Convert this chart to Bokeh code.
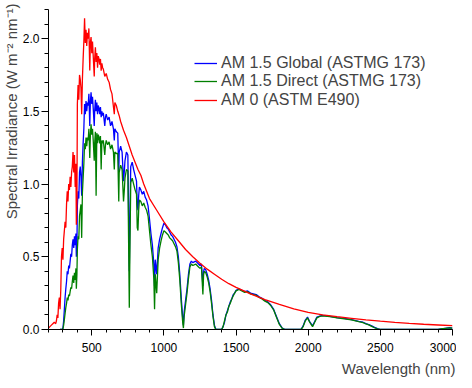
from bokeh.plotting import figure
from bokeh.models import (Range1d, FixedTicker, PrintfTickFormatter, Legend, LegendItem, Title, ColumnDataSource)
from bokeh.embed import file_html
from bokeh.resources import INLINE

# ---------------- data ----------------
am0_wl = [200, 210, 220, 230, 240, 250, 255, 260, 265, 270, 275, 280, 285, 290, 295, 300, 305, 310, 315, 320,
          325, 330, 335, 340, 345, 350, 355, 360, 365, 370, 375, 380, 385, 390, 393, 397, 400, 405, 410, 415,
          420, 425, 430, 435, 440, 445, 450, 455, 460, 465, 470, 475, 480, 486, 490, 495, 500, 505, 510, 517,
          520, 525, 530, 535, 540, 545, 550, 555, 560, 565, 570, 575, 580, 590, 600, 610, 620, 630, 640, 656,
          660, 670, 680, 690, 700, 720, 740, 760, 780, 800, 820, 840, 860, 880, 900, 950, 1000, 1050, 1100, 1150,
          1200, 1250, 1300, 1350, 1400, 1450, 1500, 1600, 1700, 1800, 1900, 2000, 2100, 2200, 2300, 2400, 2500,
          2600, 2700, 2800, 2900, 3000]
am0_val = [0.01, 0.02, 0.03, 0.04, 0.05, 0.04, 0.06, 0.10, 0.08, 0.18, 0.22, 0.14, 0.27, 0.50, 0.56, 0.48, 0.62, 0.68, 0.74, 0.70,
           0.86, 0.95, 0.88, 1.00, 0.96, 1.05, 0.98, 1.08, 1.12, 1.22, 1.08, 1.20, 0.98, 1.14, 0.72, 0.88, 1.55, 1.68, 1.58, 1.75,
           1.72, 1.66, 1.48, 1.72, 1.86, 1.98, 2.14, 1.97, 2.06, 1.95, 2.04, 2.00, 2.07, 1.78, 1.97, 2.01, 1.90, 1.98, 1.88, 1.74,
           1.86, 1.94, 1.84, 1.90, 1.80, 1.88, 1.86, 1.82, 1.86, 1.78, 1.83, 1.80, 1.79, 1.74, 1.76, 1.72, 1.70, 1.65, 1.62, 1.48,
           1.56, 1.54, 1.50, 1.47, 1.43, 1.37, 1.32, 1.26, 1.20, 1.15, 1.10, 1.06, 1.00, 0.95, 0.90, 0.82, 0.74, 0.67, 0.61, 0.55,
           0.50, 0.455, 0.415, 0.38, 0.345, 0.315, 0.29, 0.245, 0.205, 0.172, 0.142, 0.117, 0.10, 0.088, 0.077, 0.066, 0.057,
           0.049, 0.042, 0.036, 0.031, 0.026]

glob_wl = [280, 295, 300, 305, 310, 315, 320, 325, 330, 335, 340, 345, 350, 355, 360, 365, 370, 375, 380, 385,
           390, 393, 397, 400, 405, 410, 415, 420, 425, 430, 435, 440, 445, 450, 455, 460, 465, 470, 475, 480,
           486, 490, 495, 500, 505, 510, 517, 520, 525, 530, 535, 540, 545, 550, 555, 560, 565, 570, 575, 580,
           590, 595, 600, 610, 620, 630, 640, 650, 656, 660, 670, 680, 687, 690, 700, 710, 720, 725, 730, 740,
           750, 760, 765, 770, 780, 790, 800, 810, 815, 820, 825, 830, 840, 850, 860, 870, 880, 890, 900, 910,
           920, 930, 935, 940, 950, 960, 970, 980, 990, 1000, 1010, 1020, 1030, 1040, 1050, 1060, 1070, 1080, 1090, 1100,
           1110, 1120, 1130, 1135, 1140, 1150, 1160, 1170, 1180, 1190, 1200, 1220, 1240, 1250, 1260, 1270, 1275, 1280, 1290, 1300,
           1310, 1320, 1330, 1340, 1350, 1360, 1400, 1410, 1420, 1430, 1440, 1450, 1460, 1470, 1480, 1490, 1500, 1520, 1540, 1560,
           1580, 1600, 1620, 1640, 1660, 1680, 1700, 1720, 1740, 1760, 1780, 1800, 1820, 1840, 1950, 1965, 1980, 1995, 2010, 2030,
           2045, 2060, 2080, 2100, 2150, 2200, 2250, 2300, 2350, 2380, 2400, 2420, 2440, 2460, 2480, 2500, 2900, 2920, 2950, 2980, 3000]
glob_val = [0.0, 0.0, 0.01, 0.06, 0.14, 0.22, 0.28, 0.33, 0.40, 0.38, 0.44, 0.42, 0.47, 0.52, 0.50, 0.58, 0.62, 0.56, 0.64, 0.58,
            0.66, 0.50, 0.58, 0.85, 0.95, 0.90, 1.08, 1.12, 1.05, 0.92, 1.15, 1.28, 1.38, 1.55, 1.48, 1.57, 1.50, 1.56, 1.54, 1.62,
            1.40, 1.56, 1.63, 1.55, 1.60, 1.52, 1.40, 1.50, 1.58, 1.50, 1.56, 1.48, 1.54, 1.52, 1.48, 1.53, 1.46, 1.50, 1.47, 1.49,
            1.40, 1.46, 1.48, 1.44, 1.46, 1.40, 1.43, 1.38, 1.30, 1.38, 1.36, 1.35, 1.08, 1.22, 1.26, 1.22, 1.02, 1.08, 1.16, 1.22,
            1.20, 0.40, 0.82, 1.12, 1.15, 1.10, 1.06, 1.02, 0.86, 0.82, 0.92, 0.98, 0.96, 0.93, 0.95, 0.91, 0.89, 0.85, 0.76, 0.66,
            0.58, 0.45, 0.30, 0.48, 0.38, 0.56, 0.62, 0.66, 0.70, 0.73, 0.72, 0.70, 0.69, 0.67, 0.65, 0.64, 0.62, 0.60, 0.57, 0.50,
            0.38, 0.22, 0.08, 0.03, 0.12, 0.20, 0.28, 0.38, 0.45, 0.47, 0.46, 0.47, 0.45, 0.44, 0.45, 0.30, 0.40, 0.42, 0.41, 0.38,
            0.34, 0.28, 0.20, 0.10, 0.03, 0.0, 0.0, 0.02, 0.05, 0.10, 0.13, 0.16, 0.19, 0.21, 0.24, 0.25, 0.27, 0.28, 0.27, 0.26,
            0.265, 0.25, 0.245, 0.24, 0.225, 0.215, 0.20, 0.19, 0.17, 0.14, 0.09, 0.04, 0.01, 0.0, 0.0, 0.025, 0.065, 0.085, 0.055, 0.025,
            0.055, 0.085, 0.092, 0.097, 0.09, 0.082, 0.076, 0.068, 0.056, 0.05, 0.04, 0.034, 0.025, 0.015, 0.006, 0.0, 0.0, 0.004, 0.008, 0.012, 0.01]

dir_wl = glob_wl
dir_val = [0.0, 0.0, 0.005, 0.03, 0.07, 0.11, 0.15, 0.18, 0.22, 0.20, 0.24, 0.23, 0.26, 0.29, 0.28, 0.33, 0.37, 0.32, 0.39, 0.34,
           0.42, 0.28, 0.38, 0.55, 0.64, 0.62, 0.78, 0.82, 0.86, 0.63, 0.94, 1.04, 1.14, 1.28, 1.24, 1.32, 1.26, 1.32, 1.30, 1.38,
           1.18, 1.33, 1.41, 1.34, 1.38, 1.30, 1.16, 1.28, 1.36, 0.92, 1.35, 1.28, 1.34, 1.32, 1.28, 1.33, 1.10, 1.30, 1.28, 1.30,
           1.20, 1.27, 1.30, 1.27, 1.29, 1.24, 1.27, 1.22, 1.10, 1.22, 1.21, 1.21, 0.88, 1.08, 1.13, 1.10, 0.88, 0.95, 1.04, 1.10,
           1.09, 0.15, 0.60, 1.01, 1.04, 1.00, 0.96, 0.93, 0.70, 0.68, 0.82, 0.89, 0.88, 0.85, 0.87, 0.84, 0.82, 0.78, 0.68, 0.58,
           0.50, 0.35, 0.14, 0.38, 0.25, 0.48, 0.56, 0.61, 0.65, 0.68, 0.67, 0.66, 0.65, 0.63, 0.62, 0.61, 0.59, 0.57, 0.54, 0.46,
           0.34, 0.18, 0.05, 0.01, 0.09, 0.17, 0.25, 0.35, 0.43, 0.45, 0.44, 0.45, 0.43, 0.42, 0.43, 0.24, 0.38, 0.40, 0.39, 0.36,
           0.32, 0.26, 0.18, 0.09, 0.02, 0.0, 0.0, 0.02, 0.06, 0.10, 0.12, 0.16, 0.18, 0.21, 0.23, 0.25, 0.265, 0.275, 0.265, 0.255,
           0.26, 0.245, 0.24, 0.235, 0.22, 0.21, 0.195, 0.185, 0.165, 0.135, 0.085, 0.035, 0.008, 0.0, 0.0, 0.02, 0.06, 0.08, 0.05, 0.02,
           0.05, 0.08, 0.09, 0.093, 0.088, 0.08, 0.073, 0.066, 0.054, 0.047, 0.038, 0.032, 0.022, 0.012, 0.005, 0.0, 0.0, 0.004, 0.008, 0.011, 0.01]

x_major = [500, 1000, 1500, 2000, 2500, 3000]
y_major = [0.0, 0.5, 1.0, 1.5, 2.0]

series_names = ["AM 1.5 Global (ASTMG 173)", "AM 1.5 Direct (ASTMG 173)", "AM 0 (ASTM E490)"]
series_colors = ["#0000ff", "#007f00", "#ff0000"]

FONT = "Liberation Sans"

p = figure(width=456, height=380, output_backend="svg", toolbar_location=None,
           x_range=Range1d(200, 3000), y_range=Range1d(0, 2.2),
           min_border_left=41, min_border_right=4, min_border_top=9, min_border_bottom=0)
p.outline_line_color = None
p.xgrid.visible = False
p.ygrid.visible = False
p.background_fill_color = "white"
p.border_fill_color = "white"

src_g = ColumnDataSource(dict(x=glob_wl, y=glob_val))
src_d = ColumnDataSource(dict(x=dir_wl, y=dir_val))
src_0 = ColumnDataSource(dict(x=am0_wl, y=am0_val))
r_g = p.line("x", "y", source=src_g, line_color=series_colors[0], line_width=1.3)
r_d = p.line("x", "y", source=src_d, line_color=series_colors[1], line_width=1.3)
r_0 = p.line("x", "y", source=src_0, line_color=series_colors[2], line_width=1.3)

for ax in (p.xaxis[0], p.yaxis[0]):
    ax.axis_line_color = "black"
    ax.major_tick_line_color = "black"
    ax.minor_tick_line_color = "black"
    ax.major_tick_in = 0
    ax.minor_tick_in = 0
    ax.major_label_text_font = FONT
    ax.major_label_text_font_size = "12px"
    ax.major_label_text_color = "black"

p.xaxis[0].ticker = FixedTicker(ticks=x_major, minor_ticks=list(range(200, 3001, 100)))
p.xaxis[0].major_tick_out = 6
p.xaxis[0].minor_tick_out = 3
p.xaxis[0].major_label_standoff = 7

p.yaxis[0].ticker = FixedTicker(ticks=y_major, minor_ticks=[i / 10 for i in range(0, 23)])
p.yaxis[0].formatter = PrintfTickFormatter(format="%.1f")
p.yaxis[0].major_tick_out = 7
p.yaxis[0].minor_tick_out = 4
p.yaxis[0].major_label_standoff = 2

p.add_layout(Title(text="Wavelength (nm)", align="right", text_font=FONT, text_font_size="15px",
                   text_font_style="normal", standoff=7, offset=-3), "below")
p.add_layout(Title(text="Spectral Irradiance (W m\u207b\u00b2 nm\u207b\u00b9)", align="right", text_font=FONT,
                   text_font_size="15px", text_font_style="normal", standoff=0, offset=-6), "left")

legend_y = [257, 239, 220]
for name, r, ly in zip(series_names, [r_g, r_d, r_0], legend_y):
    lg = Legend(items=[LegendItem(label=name, renderers=[r])],
                location=(146, ly), padding=0, margin=0,
                label_text_font=FONT, label_text_font_size="16px", label_standoff=4,
                glyph_width=23, glyph_height=16, label_height=16,
                border_line_color=None, background_fill_alpha=0)
    p.add_layout(lg, "center")

open("out.html", "w").write(file_html(p, INLINE))
